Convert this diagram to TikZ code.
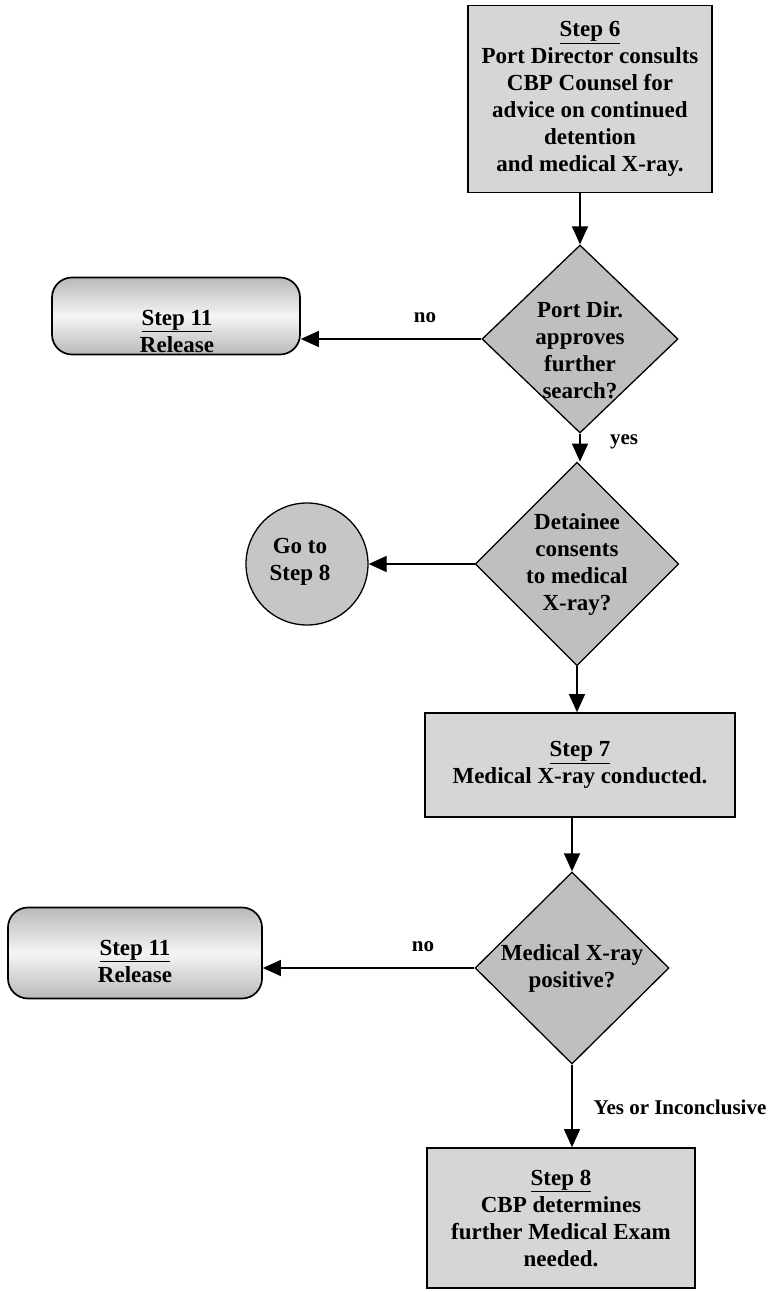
\documentclass[tikz,border=0pt]{standalone}
\usepackage{fontspec}
\setmainfont{Liberation Serif}
\usetikzlibrary{shapes.geometric,arrows.meta}

\begin{document}
\begin{tikzpicture}[x=1pt,y=-1pt,
  every node/.style={font=\bfseries\fontsize{23}{27}\selectfont, align=center, inner sep=0pt},
  stepbox/.style={rectangle, draw, line width=1.7pt, fill=gray!32},
  releasebox/.style={rectangle, draw, line width=1.7pt, rounded corners=20pt,
    top color=gray!55, bottom color=gray!55, middle color=gray!8},
  decision/.style={diamond, draw, line width=1.3pt, fill=gray!50},
  gotocircle/.style={circle, draw, line width=1.3pt, fill=gray!45, minimum size=122pt},
  flow/.style={line width=1.3pt, -{Triangle[length=18pt,width=16pt]}},
  edgetext/.style={font=\bfseries\fontsize{21}{25}\selectfont}
]
\useasboundingbox (0,0) rectangle (782,1292);

% process boxes
\node[stepbox, minimum width=244pt, minimum height=187pt] (s6) at (590,99)
  {\underline{Step 6}\\Port Director consults\\CBP Counsel for\\advice on continued\\detention\\and medical X-ray.};
\node[stepbox, minimum width=310pt, minimum height=104pt] (s7) at (580,765)
  {\underline{Step 7}\\Medical X-ray conducted.};
\node[stepbox, minimum width=268pt, minimum height=140pt] (s8) at (561,1218)
  {\underline{Step 8}\\CBP determines\\further Medical Exam\\needed.};

% decisions (the first one carries its text a little below centre)
\node[decision, minimum width=196pt, minimum height=188pt] (d1) at (580,339) {};
\node (d1text) at (580,350) {Port Dir.\\approves\\further\\search?};
\node[decision, minimum width=194pt, minimum height=192pt] (d2) at (577,564)
  {Detainee\\consents\\to medical\\X-ray?};
\node[decision, minimum width=194pt, minimum height=192pt] (d3) at (572,968)
  {Medical X-ray\\positive?};

% terminals, with their labels set in the lower part
\node[releasebox, minimum width=248pt, minimum height=77pt] (r1) at (176,316) {};
\node (r1text) at (177,331) {\underline{Step 11}\\Release};
\node[releasebox, minimum width=254pt, minimum height=91pt] (r2) at (135,953) {};
\node (r2text) at (135,961) {\underline{Step 11}\\Release};
\node[gotocircle] (g8) at (307,564) {};
\node (g8text) at (300,562) {Go to\\Step 8};

% connectors
\draw[flow] (d1.north |- s6.south) -- (d1.north);
\draw[flow] (d1.west) -- (d1.west -| r1.east);
\draw[flow] (d1.south) -- (d1.south |- d2.north);
\draw[flow] (d2.west) -- (g8.east);
\draw[flow] (d2.south) -- (d2.south |- s7.north);
\draw[flow] (d3.north |- s7.south) -- (d3.north);
\draw[flow] (d3.west) -- (d3.west -| r2.east);
\draw[flow] (d3.south) -- (d3.south |- s8.north);

% branch labels
\node[edgetext] (no1) at (425,318) {no};
\node[edgetext] (yes1) at (624,442) {yes};
\node[edgetext] (no2) at (423,947) {no};
\node[edgetext] (yes2) at (680,1107) {Yes or Inconclusive};
\end{tikzpicture}
\end{document}
